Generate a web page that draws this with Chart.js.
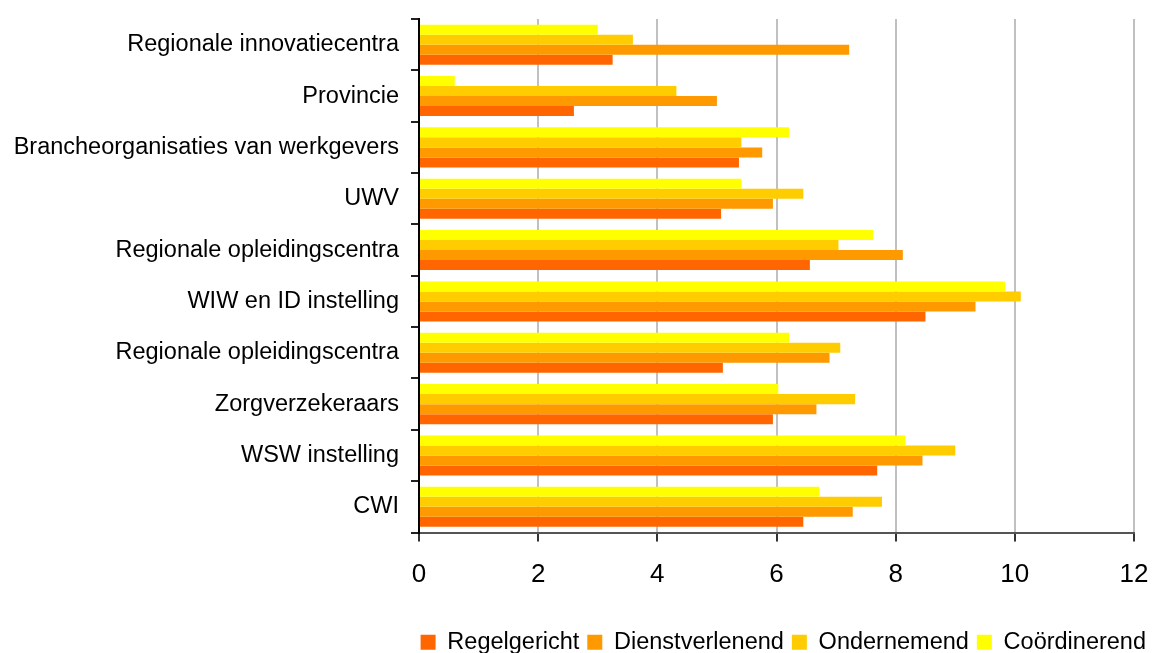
<!DOCTYPE html>
<html>
<head>
<meta charset="utf-8">
<script src="https://cdn.jsdelivr.net/npm/chart.js@4/dist/chart.umd.min.js"></script>
<style>
  html, body { margin: 0; padding: 0; background: #fff; }
  #wrap { width: 1152px; height: 653px; position: relative; }
</style>
</head>
<body>
<div id="wrap"><canvas id="chart"></canvas></div>
<script>
var categories = ['Regionale innovatiecentra', 'Provincie', 'Brancheorganisaties van werkgevers', 'UWV',
    'Regionale opleidingscentra', 'WIW en ID instelling', 'Regionale opleidingscentra',
    'Zorgverzekeraars', 'WSW instelling', 'CWI'];

var regelgericht    = [3.25, 2.6, 5.37, 5.07, 6.56, 8.5, 5.1, 5.94, 7.69, 6.45];
var dienstverlenend = [7.22, 5.0, 5.76, 5.94, 8.12, 9.34, 6.89, 6.67, 8.45, 7.28];
var ondernemend     = [3.59, 4.32, 5.41, 6.45, 7.04, 10.1, 7.07, 7.32, 9.0, 7.77];
var coordinerend    = [3.0, 0.6, 6.21, 5.41, 7.62, 9.84, 6.21, 6.03, 8.16, 6.72];

var xTicks = [0, 2, 4, 6, 8, 10, 12];

Chart.defaults.font.family = '"Liberation Sans", Arial, sans-serif';
Chart.defaults.color = '#000';

var ctx = document.getElementById('chart').getContext('2d');

var chart = new Chart(ctx, {
    type: 'bar',
    data: {
        labels: categories,
        // top bar of each group first, so Coördinerend sits on top
        datasets: [{
            label: 'Coördinerend',
            data: coordinerend,
            backgroundColor: '#FFFF00'
        }, {
            label: 'Ondernemend',
            data: ondernemend,
            backgroundColor: '#FFCC00'
        }, {
            label: 'Dienstverlenend',
            data: dienstverlenend,
            backgroundColor: '#FF9900'
        }, {
            label: 'Regelgericht',
            data: regelgericht,
            backgroundColor: '#FF6600'
        }]
    },
    options: {
        indexAxis: 'y',
        responsive: true,
        maintainAspectRatio: false,
        animation: false,
        datasets: {
            bar: {
                categoryPercentage: 0.78,
                barPercentage: 1.0,
                borderWidth: 0
            }
        },
        layout: {
            padding: { top: 19, right: -2, left: 0, bottom: -11 }
        },
        plugins: {
            tooltip: { enabled: false },
            legend: {
                position: 'bottom',
                align: 'end',
                reverse: true,
                labels: {
                    boxWidth: 15,
                    boxHeight: 15,
                    padding: 8,
                    font: { size: 23.5 },
                    color: '#000'
                }
            }
        },
        scales: {
            x: {
                min: 0,
                max: 12,
                afterBuildTicks: function (scale) {
                    scale.ticks = xTicks.map(function (v) { return { value: v }; });
                },
                afterFit: function (scale) {
                    scale.height = 90;
                    scale.paddingLeft = 0;
                    scale.paddingRight = 18;
                },
                grid: {
                    color: '#c0c0c0',
                    lineWidth: 2,
                    tickColor: '#333',
                    tickLength: 9
                },
                border: { color: '#555', width: 2 },
                ticks: {
                    font: { size: 26 },
                    padding: 18,
                    color: '#000'
                }
            },
            y: {
                afterFit: function (scale) {
                    scale.width = 419;
                    scale.paddingTop = 0;
                    scale.paddingBottom = 0;
                },
                grid: {
                    display: true,
                    drawOnChartArea: false,
                    offset: true,
                    tickColor: '#222',
                    tickLength: 8,
                    lineWidth: 2
                },
                border: { color: '#000', width: 2 },
                ticks: {
                    font: { size: 23.5 },
                    padding: 12,
                    color: '#000',
                    autoSkip: false
                }
            }
        }
    }
});
</script>
</body>
</html>
